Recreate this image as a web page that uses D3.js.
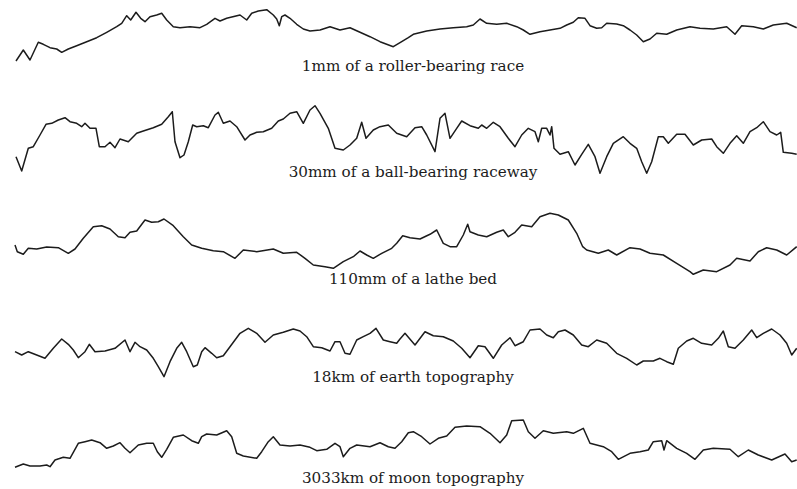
<!DOCTYPE html>
<html>
<head>
<meta charset="utf-8">
<script src="https://cdn.jsdelivr.net/npm/d3@7"></script>
<style>
  html, body { margin: 0; padding: 0; background: #fff; }
  svg { display: block; }
</style>
</head>
<body>
<svg id="chart" width="797" height="489"></svg>
<script>
// Surface profiles: position along the trace (arbitrary units) and relative height.
const rollerPos = [1,8.3,15,23.3,28.3,35,41.7,46.7,53.3,61.7,71.7,81.7,91.7,101.7,106.7,111.7,115.7,121,125.7,130,135,141.7,146.7,151.7,158.3,165,175,185,191.7,200,205,211.7,225,231.7,236.7,243.3,251.7,258.3,261.7,264.3,266.7,270,275,281.7,288.3,295,305,315,325,335,345,355,365,378.3,386.7,393.3,398.3,411.7,425,438.3,451.7,458.3,465,471.7,481.7,491.7,501.7,508.3,515,525,535,545,551.7,558.3,563.3,570,575,581.7,586.7,591.7,601.7,608.3,615,621.7,628.3,635,641.7,651.7,661.7,675,685,698.3,711.7,720,726.7,738.3,748.3,758.3,771.7,781.7];
const rollerHeight = [4,15,5,22.7,20.7,17.3,16,12.7,16,19.3,23.3,27.3,32.7,38.3,41.7,49.3,45,52.7,46.7,43.3,48.3,50,51.7,45,38.3,37.3,38.3,37.3,40.7,46.7,44,46.7,50,45,51.7,54,55.3,50,46,39.3,48.3,50,46.7,40.7,36,34,35,38.3,35,37.3,32.7,28.3,23.3,18.3,23.3,27.3,30.7,34,36,37.3,38.3,40,46,41.7,40.7,41.7,38.3,35,30.7,33.3,35,36.7,40,42.7,47.3,46.7,39.3,36.7,37.3,41.7,41,39.3,35,30,23.3,26,31.7,30.7,35,38.3,36.7,36,38.3,30.7,39.3,38.3,36,40,41.7,37.3];

const ballPos = [1,6.7,13.3,18.3,25,31,36.7,43.3,50,55,61.7,66.7,70,75,81,84.3,90,95,100,105,113.3,121.7,128.3,138.3,146.7,153.3,157.3,160,165,169,173.3,177.7,181.7,188.3,193.3,200,203.3,208.3,215,221.7,230,235,241.7,248.3,256.7,263.3,268.3,275,281.7,288.3,295,300,305,313.3,320,328.3,335,341.7,346.7,351,358.3,365,373.3,381.7,391.7,400,406.7,411.7,420,425,430,435,441.7,446.7,455,463.3,466.7,471.7,478.3,485,493.3,500,506.7,513.3,520,523.3,526.7,531.7,535,536.7,539,545,553.3,560,566.7,573.3,580,585,591.7,598.3,608.3,615,621.7,626.7,631.7,636.7,643.3,648.3,653.3,661.7,670,678.3,686.7,696.7,701.7,708.3,715,721.7,728.3,735,741.7,748.3,755,761.7,765.7,768.3,776.7,781.7];
const ballHeight = [21.3,7,29.7,31.3,43,53.7,54.7,58,60.3,56.3,54.7,51.3,54.7,49.7,49.7,31.3,31.3,35.7,30.3,39,36.3,44.7,47,50.3,53.7,61.3,66.3,36.3,20.3,23,36.3,53,51.3,52.3,50.3,63,65.7,54.7,57,51.3,38,43,45.7,46.3,49.7,57,59,64.7,66.3,54.7,68,72.3,64.7,49.7,29.7,28,33,39.7,55.7,39.7,48,51.3,53,44.7,41.3,50.3,51.3,43,26.3,59.7,64.7,39.7,49.7,57,52.3,49.7,53,49.7,55.7,51.3,39.7,31.3,43,49.7,46.3,36.3,49.7,49.7,43,51.3,29.7,23.7,26.3,13,23.7,33.7,21.3,4.7,21.3,34.7,41.3,34.7,29.7,16.3,4.7,16.3,41.3,41.3,34.7,43.7,43.7,33,38,39,31.3,24.7,34.7,42.3,34.7,46.3,50.3,56.3,46.3,43,45.7,25.7,24.7,23.7];

const lathePos = [0,2.3,8.3,13.3,21.7,31.7,43.3,53.3,60,68.3,78.3,86.7,95,103.3,110,115,121.7,130,136.7,143.3,149,158.3,168.3,176.7,186.7,198.3,208.3,220,228.3,241.7,258.3,268.3,281.7,290,298.3,310,318.3,328.3,338.3,345,351.7,358.3,366.7,376.7,381.7,387.7,395,405,415,421.7,428.3,435,441.7,448.3,452.7,455,463.3,471.7,481.7,488.3,493.3,500,506.7,516.7,525,535,543.3,553.3,561.7,567.7,571.7,583.3,593.3,601.7,615,625,635,648.3,661.7,675,678.3,688.3,701.7,715,721.7,735,743.3,751.7,761.7,771.7,781.7];
const latheHeight = [33,26.3,23.7,29.7,29,31,30.3,24.7,29,39.7,51.3,52.3,49,41.3,40.3,45.7,47,58,55.7,56.3,59,52.3,41.3,33,29.7,27.3,26.3,19.7,28,26.3,29,24.7,25.7,19.7,13,11.3,9.7,16.3,21.3,27,23,19.7,24.7,29.7,34.7,42.3,40.3,39,43.7,48,34.7,31.3,31.3,43,53.7,46.3,43,41.3,45.7,48,41.3,45.7,53,51.3,61.3,64.7,63,58,44.7,31.3,28,24.7,28,23,30.3,29,24.7,23,14.7,6.3,3.7,8,6.3,13,19.7,17,26.3,30.3,28,23,31.3];

const earthPos = [0,6.7,13.3,21.7,30,38.3,46.7,53.3,58.3,63.3,70,74.3,80,90,100,110,115,120,125,131.7,138.3,143.3,149,155,161.7,166.7,171.7,178.3,182.3,186.7,190,196.7,201.7,208.3,215,225,233.3,241.7,250,258.3,268.3,278.3,285,291.7,298.3,306.7,315,320,325,330,335,341.7,348.3,355,361,368.3,375,381.7,385,390,394,400,410,418.3,428.3,438.3,446.7,455,463.3,470,478.3,486.7,495,500,508.3,515,525,531.7,538.3,543.3,550,558.3,566.7,573.3,581.7,591.7,601.7,611.7,621.7,628.3,638.3,645,651.7,658.3,663.3,671.7,678.3,686.7,696.7,703.3,708.3,713.3,720,728.3,736.7,741.7,748.3,756.7,765,771.7,776.7,781.7];
const earthHeight = [28.3,25,28.3,25,21.7,31.7,41,35.7,30,22.3,28.3,35.7,28.3,29,31.7,40,28.3,37.7,33.3,30,21.7,13.3,3.3,18.3,31.7,37.7,28.3,13.3,15,28.3,32.3,26.7,22.3,24.3,33.3,46.7,51.7,46.7,37.7,45,47.7,51,49,43.3,33.3,32.3,29,38.3,38.3,26.7,25.7,40,43.3,46.7,51.7,40,38.3,36.7,41,46.7,42,35,48.3,44.3,43.3,39,31.7,22.3,34.3,33.3,21.7,35,42.3,34.3,38.3,50,51,45,42.3,48.3,50,45,35,33.3,40,36.7,26.7,21.7,15,19,19,21.7,18.3,15.7,31.7,39,41.7,36.7,35,41.7,49,33.3,31.7,40,50,42.3,46.7,51,45,36.7,25,31.7];

const moonPos = [0,8.3,15,25,31.7,35,40,48.3,55,63.3,70,76.7,85,91.7,98.3,105,110,115,123.3,131.7,138.3,142.3,146.7,151.7,158.3,168.3,176.7,183.3,186.7,191.7,201.7,211.7,216.7,221.7,228.3,241.7,246.7,253.3,258.3,265,275,285,295,301.7,311.7,320,325,328.3,335,341.7,355,365,373.3,380,386.7,393.3,398.3,406.7,415,423.3,431.7,440,451.7,465,475,485,491.7,496.7,508.3,513.3,520,528.3,538.3,551.7,558.3,568.3,575,588.3,596.7,603.3,615,625,633.3,638.3,646.7,649,651.7,661.7,671.7,680,688.3,698.3,715,723.3,733.3,743.3,756.7,770,776.7,781.7];
const moonHeight = [2.7,6,4,4,5,3.3,10,12.7,11.7,26.7,28.3,30,27.3,21.7,24,27.3,21.7,17.3,25,26.7,26.7,18.3,12.7,20.7,32.7,35,29.3,26.7,33.3,36,35,39.3,33.3,16.7,14,11.7,18.3,28.3,33.3,25,24,25,22.7,19.3,20.7,26.7,23.3,13.3,21.7,25,23.3,27.3,23.3,21.7,28.3,37.3,38.3,33.3,26,31.7,34,42.7,44,43.3,36.7,27.3,35,49.3,50,38.3,31.7,39.3,36.7,38.3,36.7,41.7,26.7,23.3,18.3,10.7,16.7,18.3,20,28.3,29.3,20,29.3,21.7,16.7,10.7,20,21.7,20.7,13.3,20,15,10,16,8.3,10];

const captions = [
  "1mm of a roller-bearing race",
  "30mm of a ball-bearing raceway",
  "110mm of a lathe bed",
  "18km of earth topography",
  "3033km of moon topography"
];

// Layout: each trace sits above its caption.
const svg = d3.select("#chart");
const panels = [
  { pos: rollerPos, h: rollerHeight, base: 65,  captionY: 71 },
  { pos: ballPos,   h: ballHeight,   base: 178, captionY: 177 },
  { pos: lathePos,  h: latheHeight,  base: 278, captionY: 284 },
  { pos: earthPos,  h: earthHeight,  base: 380, captionY: 382 },
  { pos: moonPos,   h: moonHeight,   base: 470, captionY: 483 }
];

const x = d3.scaleLinear().domain([0, 781.7]).range([15, 796.7]);

panels.forEach((p, i) => {
  const y = d3.scaleLinear().domain([0, 80]).range([p.base, p.base - 80]);
  const pts = p.pos.map((v, k) => [v, p.h[k]]);
  const line = d3.line().x(d => x(d[0])).y(d => y(d[1]));

  svg.append("path")
    .datum(pts)
    .attr("d", line)
    .attr("fill", "none")
    .attr("stroke", "#1c1c1c")
    .attr("stroke-width", 1.5)
    .attr("stroke-linejoin", "round");

  svg.append("text")
    .attr("x", 413)
    .attr("y", p.captionY)
    .attr("text-anchor", "middle")
    .attr("font-family", "'DejaVu Serif', serif")
    .attr("font-size", 15.2)
    .attr("fill", "#1c1c1c")
    .text(captions[i]);
});
</script>
</body>
</html>
